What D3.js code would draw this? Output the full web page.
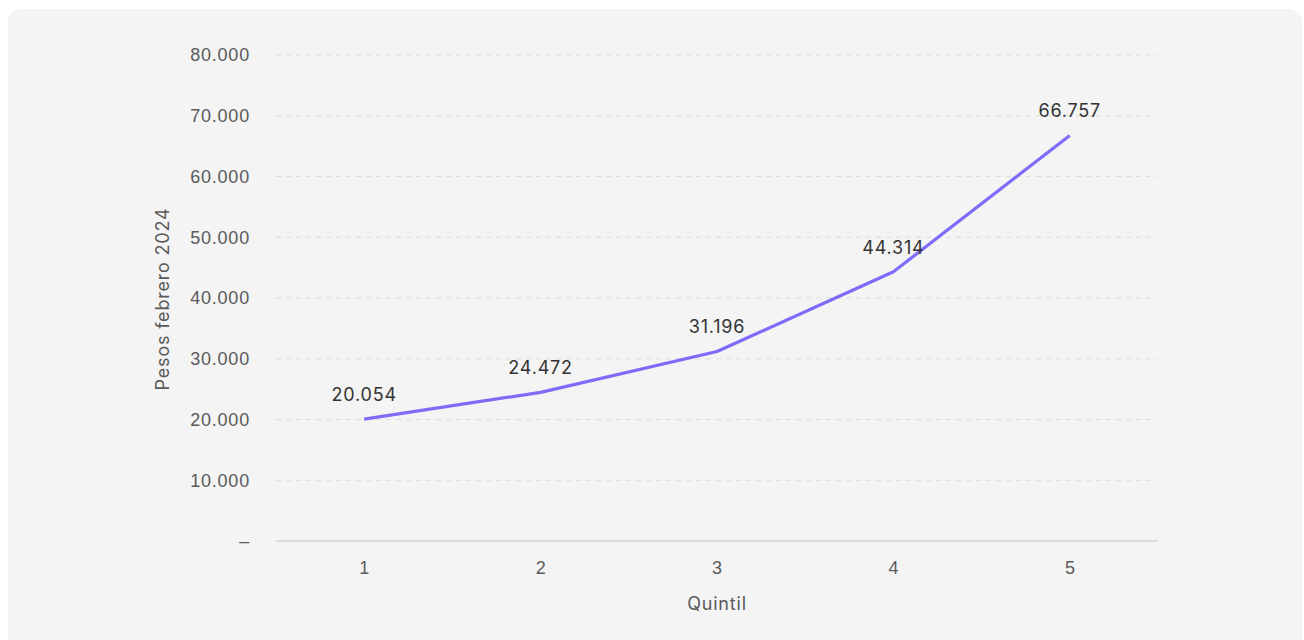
<!DOCTYPE html>
<html>
<head>
<meta charset="utf-8">
<script src="https://cdn.jsdelivr.net/npm/d3@7"></script>
<style>
  body { margin: 0; background: #fff; }
  svg { display: block; font-family: Inter, "Open Sans", sans-serif; letter-spacing: 0.8px; }
</style>
</head>
<body>
<div id="chart"></div>
<script>
// Data
var quintiles = ['1', '2', '3', '4', '5']
var pesos = [20054, 24472, 31196, 44314, 66757]
var yTicks = [0, 10000, 20000, 30000, 40000, 50000, 60000, 70000, 80000]

var width = 1304
var height = 640
var margin = { top: 55, right: 146, bottom: 99, left: 276 }

var svg = d3.select('#chart').append('svg')
  .attr('width', width)
  .attr('height', height)

// card background
svg.append('rect')
  .attr('x', 8)
  .attr('y', 9)
  .attr('width', 1294)
  .attr('height', 660)
  .attr('rx', 13)
  .attr('fill', '#f4f4f4')

var x = d3.scalePoint()
  .domain(quintiles)
  .range([margin.left, width - margin.right])
  .padding(0.5)

var y = d3.scaleLinear()
  .domain([0, 80000])
  .range([height - margin.bottom, margin.top])

var fmt = function (d) {
  if (d === 0) return '–'
  return d3.format(',')(d).replace(/,/g, '.')
}

// gridlines
svg.append('g')
  .selectAll('line')
  .data(yTicks.filter(function (d) { return d > 0 }))
  .join('line')
    .attr('x1', margin.left)
    .attr('x2', width - margin.right)
    .attr('y1', function (d) { return y(d) })
    .attr('y2', function (d) { return y(d) })
    .attr('stroke', '#dcdcdc')
    .attr('stroke-dasharray', '5,5')

// baseline
svg.append('line')
  .attr('x1', margin.left)
  .attr('x2', width - margin.right)
  .attr('y1', y(0))
  .attr('y2', y(0))
  .attr('stroke', '#d4d4d4')
  .attr('stroke-width', 1.5)

// y axis labels
var yAxis = svg.append('g')
  .attr('transform', 'translate(' + (margin.left - 26) + ',0)')
  .call(d3.axisLeft(y).tickValues(yTicks).tickFormat(fmt).tickSize(0).tickPadding(0))
yAxis.select('.domain').remove()
yAxis.selectAll('text')
  .attr('fill', '#5a5a5a')
  .style('font-size', '18px')

// x axis labels
var xAxis = svg.append('g')
  .attr('transform', 'translate(0,' + y(0) + ')')
  .call(d3.axisBottom(x).tickSize(0).tickPadding(20))
xAxis.select('.domain').remove()
xAxis.selectAll('text')
  .attr('fill', '#5a5a5a')
  .style('font-size', '18px')

// axis titles
svg.append('text')
  .attr('x', x('3'))
  .attr('y', 610)
  .attr('text-anchor', 'middle')
  .attr('fill', '#5a5a5a')
  .style('font-size', '18px')
  .text('Quintil')

svg.append('text')
  .attr('transform', 'translate(169,' + (y(40000) + 1) + ') rotate(-90)')
  .attr('text-anchor', 'middle')
  .attr('fill', '#5a5a5a')
  .style('font-size', '18px')
  .text('Pesos febrero 2024')

// line
var line = d3.line()
  .x(function (d, i) { return x(quintiles[i]) })
  .y(function (d) { return y(d) })

svg.append('path')
  .datum(pesos)
  .attr('d', line)
  .attr('fill', 'none')
  .attr('stroke', '#7d6cf7')
  .attr('stroke-width', 3.2)
  .attr('stroke-linejoin', 'round')

// data labels
svg.append('g')
  .selectAll('text')
  .data(pesos)
  .join('text')
    .attr('x', function (d, i) { return x(quintiles[i]) })
    .attr('y', function (d) { return y(d) - 18 })
    .attr('text-anchor', 'middle')
    .attr('fill', '#333')
    .style('font-size', '18px')
    .text(fmt)
</script>
</body>
</html>
